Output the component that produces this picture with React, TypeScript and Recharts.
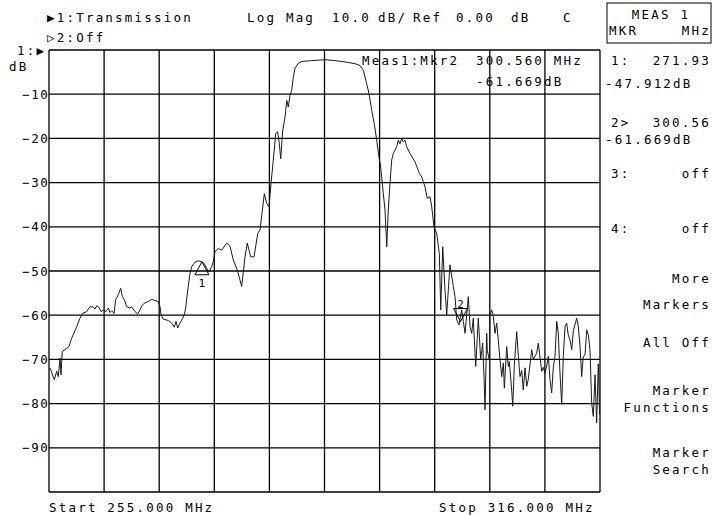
import * as React from "react";
import {
  LineChart,
  Line,
  XAxis,
  YAxis,
  CartesianGrid,
  ReferenceDot,
} from "recharts";

// trace: frequency (MHz) and magnitude (dB)
const freqs = [
  255.11, 255.59, 255.85, 256.03, 256.22, 256.33, 256.47, 256.96, 257.21, 257.51,
  258.07, 258.43, 258.69, 259.17, 259.54, 259.9, 260.09, 260.28, 260.54, 260.76,
  261.01, 261.28, 261.57, 261.75, 261.94, 262.2, 262.38, 262.67, 262.94, 263.12,
  263.34, 263.6, 263.97, 264.16, 264.52, 264.82, 265.07, 265.33, 265.63, 265.99,
  266.37, 266.74, 267.1, 267.29, 267.4, 267.65, 268.21, 268.58, 268.87, 269.06,
  269.25, 269.5, 269.69, 269.98, 270.13, 270.36, 270.61, 270.8, 271.16, 271.53,
  271.91, 272.19, 272.46, 272.71, 273.01, 273.19, 273.38, 273.74, 274.12, 274.67,
  275.04, 275.4, 275.85, 276.33, 276.7, 276.95, 277.33, 277.7, 278.11, 278.36,
  278.84, 279.1, 279.36, 279.58, 279.83, 280.1, 280.32, 280.5, 280.65, 280.87,
  281.13, 281.32, 281.49, 281.68, 281.87, 282.05, 282.23, 282.6, 282.98, 284.08,
  285.56, 286.66, 287.77, 288.88, 289.43, 289.8, 290.17, 290.43, 290.73, 291.01,
  291.28, 291.53, 291.72, 292.01, 292.2, 292.39, 292.56, 292.75, 292.94, 293.12,
  293.49, 293.67, 293.86, 294.05, 294.22, 294.41, 294.6, 294.97, 295.52, 296.0,
  296.26, 296.63, 296.88, 297.18, 297.37, 297.62, 297.92, 298.21, 298.37, 298.59,
  298.84, 299.03, 299.39, 299.76, 299.95, 300.14, 300.39, 300.69, 300.87, 301.06,
  301.42, 301.61, 301.8, 301.97, 302.24, 302.53, 302.79, 303.01, 303.16, 303.27,
  303.46, 303.52, 303.75, 303.82, 304.01, 304.19, 304.38, 304.56, 304.74, 304.93,
  305.12, 305.3, 305.41, 305.67, 305.85, 305.96, 306.22, 306.34, 306.51, 306.78,
  306.96, 307.14, 307.33, 307.51, 307.7, 307.89, 308.06, 308.44, 308.62, 308.8,
  308.99, 309.17, 309.36, 309.55, 309.72, 309.91, 310.1, 310.28, 310.47, 310.65,
  310.83, 311.02, 311.21, 311.38, 311.57, 311.76, 311.94, 312.13, 312.31, 312.49,
  312.68, 312.87, 313.05, 313.42, 313.6, 313.79, 313.97, 314.15, 314.34, 314.53,
  314.71, 314.89, 315.08, 315.26, 315.45, 315.63, 315.81, 315.95,
];

const magDb = [
  -71.9, -74.6, -72.7, -73.9, -69.7, -73.5, -68.2, -67.5, -67.1, -65.2,
  -62.6, -60.7, -59.6, -59.2, -58.1, -58.1, -58.6, -57.9, -58.2, -59.2,
  -58.8, -59.2, -58.4, -59.4, -59.0, -59.6, -56.5, -55.4, -53.9, -55.8,
  -56.5, -58.1, -58.4, -58.1, -59.2, -59.7, -58.8, -57.7, -57.2, -56.9,
  -56.4, -56.7, -56.9, -58.1, -59.9, -60.9, -61.2, -61.8, -62.7, -61.4,
  -62.9, -61.8, -61.1, -59.9, -58.4, -54.3, -50.5, -49.0, -48.0, -47.7,
  -47.9, -48.3, -49.4, -50.2, -49.0, -47.9, -45.6, -44.9, -45.3, -43.7,
  -44.4, -47.5, -49.8, -53.5, -46.8, -43.7, -46.8, -46.8, -41.5, -40.7,
  -32.5, -34.7, -35.5, -30.2, -24.9, -18.9, -18.5, -21.2, -24.6, -18.2,
  -15.2, -11.4, -12.9, -10.3, -9.1, -6.1, -4.2, -3.0, -2.6, -2.4,
  -2.2, -2.4, -2.7, -3.1, -3.5, -4.6, -7.6, -9.9, -13.7, -16.7,
  -20.4, -24.2, -26.5, -32.5, -36.2, -44.5, -36.2, -30.2, -24.9, -23.4,
  -21.9, -20.4, -21.2, -20.0, -20.8, -20.4, -21.9, -23.4, -25.3, -27.9,
  -28.7, -31.0, -33.6, -33.2, -35.5, -40.0, -41.5, -46.0, -58.8, -44.5,
  -54.3, -59.9, -48.6, -53.5, -55.8, -61.1, -62.2, -58.8, -61.4, -64.1,
  -55.8, -62.6, -64.1, -60.7, -71.6, -60.7, -70.1, -66.3, -73.9, -81.4,
  -64.1, -68.0, -70.1, -59.9, -58.8, -60.3, -64.1, -61.8, -65.6, -70.1,
  -73.9, -70.8, -76.5, -67.1, -71.6, -70.5, -76.9, -80.6, -71.6, -63.7,
  -69.3, -73.9, -72.5, -76.9, -71.9, -76.1, -74.5, -67.8, -70.0, -69.3,
  -68.6, -66.3, -69.5, -72.7, -71.8, -73.1, -71.5, -69.3, -74.6, -77.6,
  -71.8, -69.3, -61.4, -64.1, -73.1, -80.2, -69.3, -62.6, -61.8, -64.5,
  -65.6, -67.8, -63.5, -60.7, -62.5, -67.1, -73.9, -69.3, -69.0, -63.3,
  -64.5, -67.8, -79.9, -82.9, -73.5, -84.4, -71.0, -82.5,
];

const xTicks = [255, 261.1, 267.2, 273.3, 279.4, 285.5, 291.6, 297.7, 303.8, 309.9, 316];
const yTicks = [0, -10, -20, -30, -40, -50, -60, -70, -80, -90, -100];

const marker1 = { f: 271.93, db: -47.912 };
const marker2 = { f: 300.56, db: -61.669 };

const trace = freqs.map((f, i) => ({ f, db: magDb[i] }));

const FONT = "'DejaVu Sans Mono', monospace";
const txt = { fontFamily: FONT, fontSize: 12.5, letterSpacing: 2.2, fill: "#000" };

const YTick = (props: any) => {
  const { y, payload } = props;
  if (payload.value === 0 || payload.value === -100) return null;
  return (
    <text x={49.5} y={y} dy={4.5} textAnchor="end" style={{ ...txt, letterSpacing: 1.6 }}>
      {"\u2212" + Math.abs(payload.value)}
    </text>
  );
};

const NoTick = () => <g />;

const Mkr1 = (props: any) => {
  const { cx, cy } = props;
  return (
    <g>
      <path d={`M${cx},${cy} L${cx - 7},${cy + 13} L${cx + 7},${cy + 13} Z`} fill="none" stroke="#000" strokeWidth={1} />
      <text x={cx} y={cy + 25} textAnchor="middle" style={{ ...txt, fontSize: 11, letterSpacing: 0 }}>1</text>
    </g>
  );
};

const Mkr2 = (props: any) => {
  const { cx, cy } = props;
  return (
    <g>
      <path d={`M${cx},${cy - 1} L${cx - 7},${cy - 14} L${cx + 7},${cy - 14} Z`} fill="none" stroke="#000" strokeWidth={1} />
      <text x={cx} y={cy - 15} textAnchor="middle" style={{ ...txt, fontSize: 11, letterSpacing: 0 }}>2</text>
    </g>
  );
};

export default function App() {
  return (
    <div style={{ position: "absolute", left: 0, top: 0, width: 712, height: 515, background: "#fff" }}>
      <LineChart width={712} height={515} data={trace} margin={{ top: 50, right: 112, bottom: 0, left: 0 }}>
        <CartesianGrid stroke="#000" strokeWidth={1.3} />
        <XAxis
          type="number"
          dataKey="f"
          domain={[255, 316]}
          ticks={xTicks}
          tick={<NoTick />}
          tickLine={false}
          axisLine={false}
          height={23}
          interval={0}
          allowDataOverflow
        />
        <YAxis
          type="number"
          domain={[-100, 0]}
          ticks={yTicks}
          width={49}
          tickLine={false}
          axisLine={false}
          tickSize={0}
          tickMargin={1}
          interval={0}
          tick={<YTick />}
          allowDataOverflow
        />
        <Line
          type="linear"
          dataKey="db"
          stroke="#1a1a1a"
          strokeWidth={1}
          dot={false}
          isAnimationActive={false}
        />
        <ReferenceDot x={marker1.f} y={marker1.db} r={0} shape={<Mkr1 />} />
        <ReferenceDot x={marker2.f} y={marker2.db} r={0} shape={<Mkr2 />} />
      </LineChart>
      <svg width={712} height={515} style={{ position: "absolute", left: 0, top: 0, pointerEvents: "none" }}>
        <text x={47} y={22} style={txt}>{"\u25B61:Transmission"}</text>
        <text x={47} y={42} style={txt}>{"\u25B72:Off"}</text>
        <text x={247} y={22} style={txt}>Log Mag</text>
        <text x={332} y={22} style={txt}>10.0</text>
        <text x={378} y={22} style={txt}>dB/</text>
        <text x={413} y={22} style={txt}>Ref</text>
        <text x={456} y={22} style={txt}>0.00</text>
        <text x={511} y={22} style={txt}>dB</text>
        <text x={563} y={22} style={txt}>C</text>
        <text x={17} y={55} style={txt}>{"1:\u25B6"}</text>
        <text x={9} y={71} style={txt}>dB</text>
        <text x={362} y={65} style={txt}>Meas1:Mkr2</text>
        <text x={476} y={65} style={txt}>300.560 MHz</text>
        <text x={476} y={86} style={txt}>-61.669dB</text>
        <text x={49} y={512} style={txt}>Start 255.000 MHz</text>
        <text x={439} y={512} style={txt}>Stop 316.000 MHz</text>

        <rect x={607} y={3} width={104} height={40} fill="none" stroke="#000" strokeWidth={1} />
        <text x={661} y={19} textAnchor="middle" style={txt}>MEAS 1</text>
        <text x={609} y={35} style={txt}>MKR</text>
        <text x={711} y={35} textAnchor="end" style={txt}>MHz</text>

        <text x={611} y={65} style={txt}>1:</text>
        <text x={711} y={65} textAnchor="end" style={txt}>271.93</text>
        <text x={605} y={88} style={txt}>-47.912dB</text>
        <text x={611} y={127} style={txt}>2&gt;</text>
        <text x={711} y={127} textAnchor="end" style={txt}>300.56</text>
        <text x={605} y={144} style={txt}>-61.669dB</text>
        <text x={611} y={178} style={txt}>3:</text>
        <text x={711} y={178} textAnchor="end" style={txt}>off</text>
        <text x={611} y={233} style={txt}>4:</text>
        <text x={711} y={233} textAnchor="end" style={txt}>off</text>
        <text x={711} y={283} textAnchor="end" style={txt}>More</text>
        <text x={711} y={309} textAnchor="end" style={txt}>Markers</text>
        <text x={711} y={347} textAnchor="end" style={txt}>All Off</text>
        <text x={711} y={395} textAnchor="end" style={txt}>Marker</text>
        <text x={711} y={412} textAnchor="end" style={txt}>Functions</text>
        <text x={711} y={457} textAnchor="end" style={txt}>Marker</text>
        <text x={711} y={474} textAnchor="end" style={txt}>Search</text>
      </svg>
    </div>
  );
}
